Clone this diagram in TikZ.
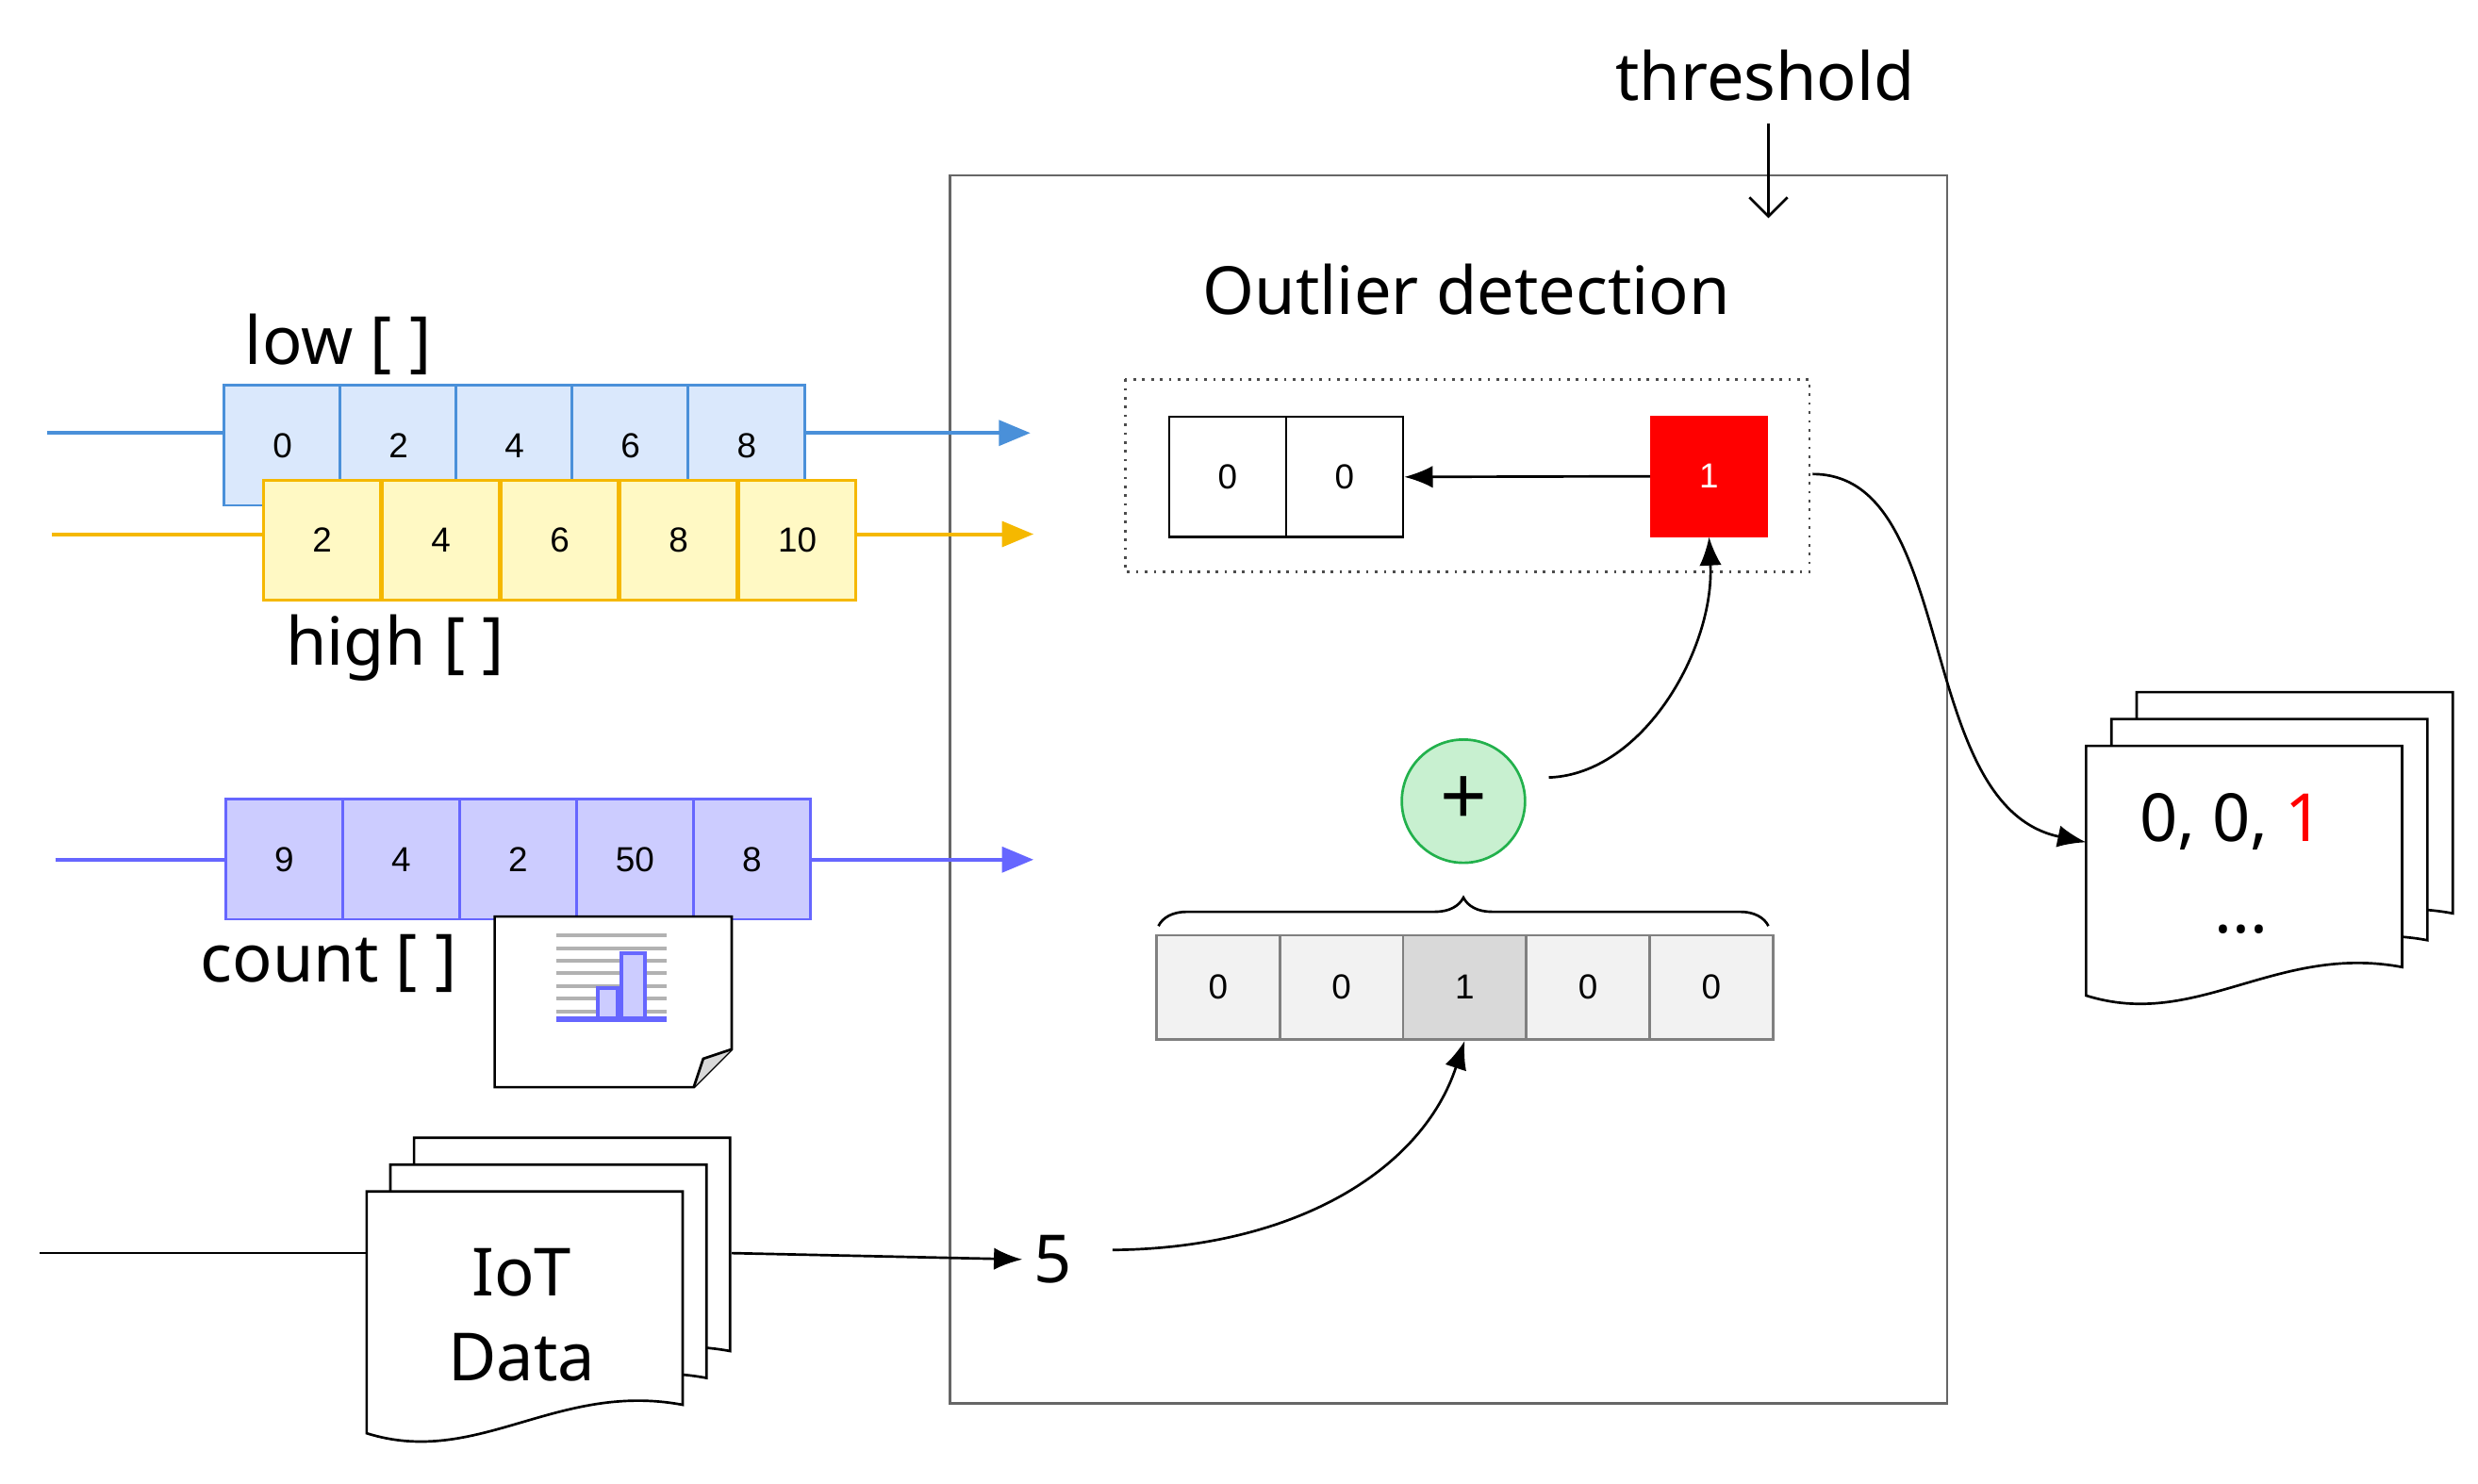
\documentclass[tikz,border=0pt]{standalone}
\usepackage{fontspec}
\setmainfont{Noto Sans}
\newfontfamily\cellf{Liberation Sans}
\usetikzlibrary{arrows.meta,decorations.pathreplacing}
\definecolor{bl}{HTML}{4A90D9}\definecolor{blf}{HTML}{DAE8FC}
\definecolor{ye}{HTML}{F5B800}\definecolor{yef}{HTML}{FFF9C4}
\definecolor{pu}{HTML}{6666FF}\definecolor{puf}{HTML}{CCCCFF}
\definecolor{gr}{HTML}{22B14C}\definecolor{grf}{HTML}{C8F0D0}
\newcommand\docpg[4]{% x0 y0 w h
  \draw[thick,fill=white] (#1,#2) -- ({#1+#3},#2) -- ({#1+#3},{#2+#4-20})
   .. controls ({#1+0.6*#3},{#2+#4-35}) and ({#1+0.35*#3},{#2+#4+20}) .. (#1,{#2+#4-2}) -- cycle;}
\begin{document}
\begin{tikzpicture}[x=0.5pt,y=-0.5pt,
 cell/.style={draw,minimum width=74*0.5pt,minimum height=76*0.5pt,inner sep=0,font=\cellf\fontsize{11}{13}\selectfont,anchor=north west},
 big/.style={font=\fontsize{21}{25}\selectfont},
 arr/.style={-{Latex[length=9pt,width=7pt]},thick}]
\useasboundingbox (0,0) rectangle (1568,939);
% outer box
\draw[gray!80!black,thick] (601,111) rectangle (1232,888);
\node[big] (th) at (1117,48) {threshold};
\coordinate (thend) at (1119,138);
\draw[-{Straight Barb[length=6pt]},thick] (1119,78) -- (thend);
\node[big] (od) at (928,183) {Outlier detection};
\draw[dotted,thick,black!70] (712,240) rectangle (1145,362);
\node[cell,thick] (a0) at (739,263) {0};
\node[cell,thick] (a1) at (813,263) {0};
\node[cell,fill=red,draw=red,text=white] (r) at (1044,263) {1};
\draw[arr] (r.west) -- (a1.east);
% output docs
\docpg{1352}{438}{200}{160}
\docpg{1336}{455}{200}{160}
\docpg{1320}{472}{200}{160}
\node[big] (out) at (1412,520) {0, 0, \textcolor{red}{1}};
\node[big] (dots) at (1418,588) {...};
\coordinate (outin) at (1320,533);
\draw[arr] (1147,300) .. controls (1240,300) and (1210,510) .. (outin);
% plus
\node[circle,draw=gr,fill=grf,thick,minimum size=78*0.5pt,font=\fontsize{26}{28}\selectfont] (p) at (926,507) {+};
\draw[arr] (980,492) .. controls (1040,490) and (1085,410) .. (r.south);
% bottom cells
\foreach \i/\v/\f in {0/0/black!5,1/0/black!5,2/1/black!15,3/0/black!5,4/0/black!5}
  \node[cell,draw=gray,thick,fill=\f,minimum width=78*0.5pt,minimum height=66*0.5pt] (b\i) at ({731+78*\i},591) {\v};
\draw[decorate,decoration={brace,amplitude=9pt},thick] (733,586) -- (1119,586);
% IoT
\docpg{262}{720}{200}{155}
\docpg{247}{737}{200}{155}
\docpg{232}{754}{200}{155}
\node[big,align=center] (iot) at (330,832) {IoT\\[2pt]Data};
\draw[thick] (25,793) -- (232,793);
\node[big] (five) at (666,797) {5};
\draw[arr] (463,793) -- (five.west);
\draw[arr] (704,791) .. controls (820,790) and (900,740) .. (b2.south);
% low
\draw[bl,very thick,-{Triangle[length=10pt,width=8pt]}] (30,274) -- (652,274);
\foreach \i/\v in {0/0,1/2,2/4,3/6,4/8}
  \node[cell,draw=bl,thick,fill=blf,text depth=-12pt] (l\i) at ({141+73.4*\i},243) {\v};
\node[big] (lowt) at (214,218) {low [ ]};
% high
\draw[ye,very thick,-{Triangle[length=10pt,width=8pt]}] (33,338) -- (654,338);
\foreach \i/\v in {0/2,1/4,2/6,3/8,4/10}
  \node[cell,draw=ye,thick,fill=yef] (h\i) at ({166+75.2*\i},303) {\v};
\node[big] (hight) at (250,410) {high [ ]};
% count
\draw[pu,very thick,-{Triangle[length=10pt,width=8pt]}] (35,544) -- (654,544);
\foreach \i/\v in {0/9,1/4,2/2,3/50,4/8}
  \node[cell,draw=pu,thick,fill=puf] (c\i) at ({142+74*\i},505) {\v};
\node[big] (countt) at (208,610) {count [ ]};
% histogram note
\draw[thick,fill=white] (313,580) -- (463,580) -- (463,664) -- (439,688) -- (313,688) -- cycle;
\draw[thick,fill=black!15] (463,664) -- (445,670) -- (439,688);
\foreach \y in {592,600,608,616,624,632,640}
  \draw[gray!60,line width=1.2pt] (352,\y) -- (422,\y);
\draw[pu,fill=puf,line width=1.2pt] (378,645) rectangle (391,625);
\draw[pu,fill=puf,line width=1.2pt] (393,645) rectangle (408,603);
\draw[pu,line width=2pt] (352,645) -- (422,645);
\end{tikzpicture}
\end{document}
